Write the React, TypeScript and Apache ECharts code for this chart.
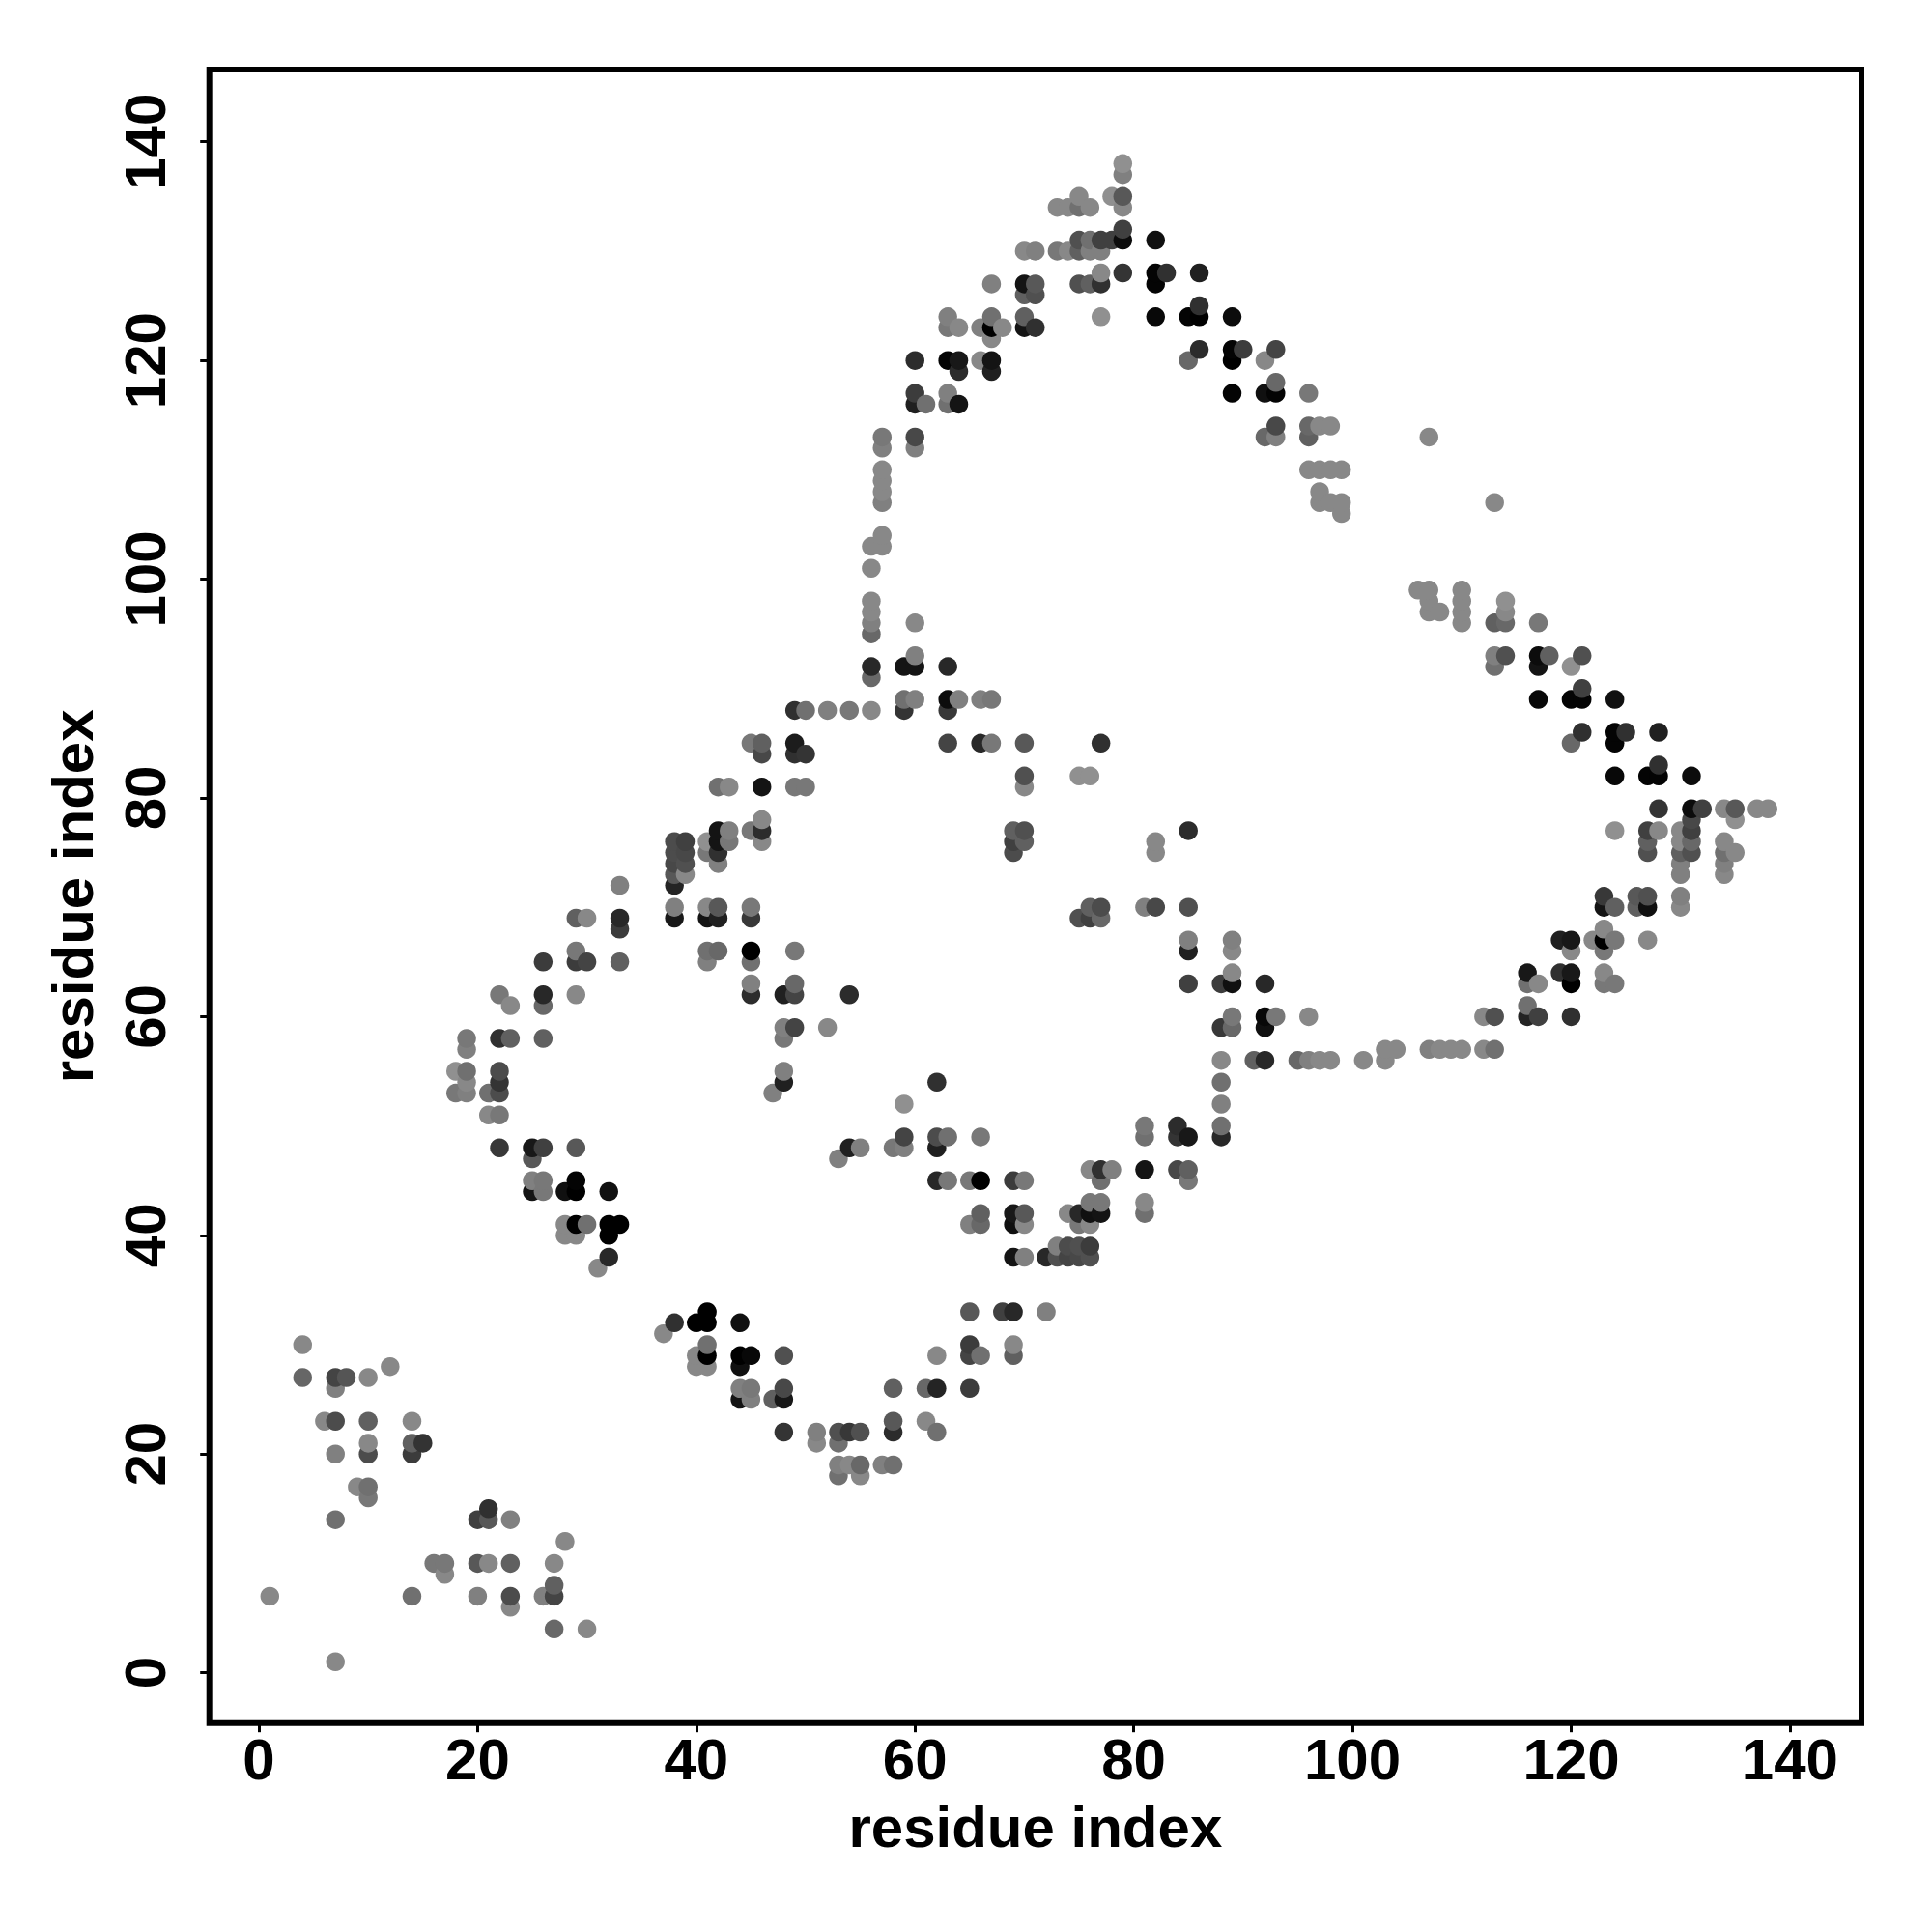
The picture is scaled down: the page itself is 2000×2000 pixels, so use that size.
import React, { useEffect, useRef } from "react";
import * as echarts from "echarts";

type Contact = [number, number, number];

const tickValues = [0, 20, 40, 60, 80, 100, 120, 140];
const axisTitle = "residue index";

const contacts0to19: Contact[] = [[1,7,0x88],[4,30,0x88],[4,27,0x66],[6,23,0x88],[7,27,0x44],[7,26,0x80],[7,23,0x4c],[7,20,0x80],[7,14,0x70],[7,1,0x88],[8,27,0x55],[9,17,0x88],[10,27,0x88],[10,23,0x60],[10,21,0x88],[10,20,0x4c],[10,17,0x70],[10,16,0x78],[12,28,0x88],[14,23,0x88],[14,21,0x60],[14,20,0x3c],[14,7,0x70],[15,21,0x33],[16,10,0x78],[17,10,0x78],[17,9,0x88],[18,55,0x90],[18,53,0x78],[19,58,0x78],[19,57,0x80],[19,55,0x70],[19,54,0x88],[19,53,0x80]];

const contacts20to39: Contact[] = [[20,14,0x40],[20,10,0x58],[20,7,0x80],[21,53,0x70],[21,51,0x88],[21,15,0x30],[21,14,0x58],[21,10,0x88],[22,62,0x78],[22,58,0x30],[22,55,0x4c],[22,54,0x34],[22,53,0x4c],[22,51,0x78],[22,48,0x38],[23,61,0x88],[23,58,0x60],[23,14,0x80],[23,10,0x60],[23,7,0x4c],[23,6,0x88],[25,48,0x18],[25,47,0x58],[25,45,0x80],[25,44,0x14],[26,65,0x3c],[26,62,0x28],[26,61,0x68],[26,58,0x60],[26,48,0x40],[26,45,0x78],[26,44,0x78],[26,7,0x80],[27,10,0x88],[27,8,0x60],[27,7,0x44],[27,4,0x68],[28,44,0x10],[28,41,0x88],[28,40,0x88],[28,12,0x88],[29,69,0x60],[29,66,0x78],[29,65,0x3c],[29,62,0x88],[29,48,0x58],[29,45,0x04],[29,44,0x00],[29,41,0x00],[29,40,0x88],[30,69,0x88],[30,65,0x44],[30,41,0x70],[30,4,0x88],[31,37,0x88],[32,44,0x10],[32,41,0x00],[32,40,0x00],[32,38,0x28],[33,72,0x80],[33,69,0x28],[33,68,0x3c],[33,65,0x60],[33,41,0x00],[37,31,0x88],[38,76,0x4c],[38,75,0x4c],[38,74,0x48],[38,73,0x58],[38,72,0x24],[38,70,0x80],[38,69,0x18],[38,32,0x30],[39,76,0x40],[39,75,0x48],[39,74,0x50],[39,73,0x88]];

const contacts40to59: Contact[] = [[40,32,0x00],[40,29,0x88],[40,28,0x88],[41,76,0x90],[41,75,0x78],[41,70,0x88],[41,69,0x14],[41,66,0x70],[41,65,0x80],[41,33,0x00],[41,32,0x00],[41,30,0x70],[41,29,0x00],[41,28,0x88],[42,81,0x70],[42,77,0x14],[42,76,0x14],[42,75,0x30],[42,74,0x80],[42,70,0x58],[42,69,0x20],[42,66,0x68],[43,81,0x88],[43,77,0x80],[43,76,0x78],[44,32,0x10],[44,29,0x00],[44,28,0x10],[44,26,0x80],[44,25,0x14],[45,85,0x78],[45,77,0x78],[45,70,0x78],[45,69,0x38],[45,66,0x00],[45,65,0x70],[45,63,0x80],[45,62,0x2c],[45,29,0x08],[45,26,0x78],[45,25,0x80],[46,85,0x60],[46,84,0x48],[46,81,0x14],[46,78,0x88],[46,77,0x2c],[46,76,0x88],[47,53,0x80],[47,25,0x60],[48,62,0x20],[48,59,0x80],[48,58,0x78],[48,55,0x80],[48,54,0x20],[48,29,0x50],[48,26,0x48],[48,25,0x18],[48,22,0x34],[49,88,0x30],[49,85,0x1c],[49,84,0x30],[49,81,0x78],[49,66,0x78],[49,63,0x68],[49,62,0x44],[49,59,0x44],[50,88,0x70],[50,84,0x34],[50,81,0x78],[51,22,0x80],[51,21,0x88],[52,88,0x80],[52,59,0x88],[53,47,0x80],[53,22,0x50],[53,21,0x70],[53,19,0x80],[53,18,0x70],[54,88,0x78],[54,62,0x2c],[54,48,0x20],[54,22,0x38],[54,19,0x88],[55,48,0x80],[55,22,0x50],[55,19,0x68],[55,18,0x88],[56,103,0x88],[56,101,0x88],[56,98,0x88],[56,97,0x88],[56,96,0x80],[56,95,0x68],[56,92,0x28],[56,91,0x68],[56,88,0x88],[57,113,0x78],[57,112,0x80],[57,110,0x88],[57,109,0x88],[57,108,0x88],[57,107,0x80],[57,104,0x88],[57,103,0x88],[57,19,0x80],[58,48,0x78],[58,26,0x60],[58,23,0x58],[58,22,0x2c],[58,19,0x70],[59,92,0x14],[59,89,0x70],[59,88,0x34],[59,52,0x90],[59,49,0x44],[59,48,0x80]];

const contacts60to79: Contact[] = [[60,120,0x2c],[60,117,0x3c],[60,116,0x20],[60,113,0x48],[60,112,0x80],[60,96,0x88],[60,93,0x80],[60,92,0x14],[60,89,0x80],[61,116,0x70],[61,26,0x68],[61,23,0x88],[62,54,0x30],[62,49,0x4c],[62,48,0x20],[62,45,0x28],[62,29,0x88],[62,26,0x24],[62,22,0x70],[63,124,0x80],[63,123,0x78],[63,120,0x04],[63,117,0x80],[63,116,0x70],[63,92,0x28],[63,89,0x0c],[63,88,0x38],[63,85,0x44],[63,49,0x70],[63,45,0x78],[64,123,0x88],[64,120,0x18],[64,119,0x2c],[64,116,0x14],[64,89,0x80],[65,45,0x78],[65,41,0x80],[65,33,0x58],[65,30,0x3c],[65,29,0x44],[65,26,0x3c],[66,123,0x80],[66,120,0x88],[66,89,0x80],[66,85,0x28],[66,49,0x78],[66,45,0x00],[66,42,0x60],[66,41,0x68],[66,29,0x70],[67,127,0x80],[67,124,0x70],[67,123,0x00],[67,122,0x88],[67,120,0x14],[67,119,0x20],[67,89,0x78],[67,85,0x78],[68,123,0x88],[68,33,0x40],[69,77,0x60],[69,76,0x40],[69,75,0x4c],[69,45,0x3c],[69,42,0x18],[69,41,0x10],[69,38,0x14],[69,33,0x28],[69,30,0x88],[69,29,0x60],[70,130,0x88],[70,127,0x14],[70,126,0x60],[70,124,0x60],[70,123,0x14],[70,85,0x58],[70,82,0x50],[70,81,0x88],[70,77,0x50],[70,76,0x60],[70,45,0x78],[70,42,0x58],[70,41,0x88],[70,38,0x80],[71,130,0x80],[71,127,0x58],[71,126,0x50],[71,123,0x30],[72,38,0x28],[72,33,0x80],[73,134,0x88],[73,130,0x78],[73,39,0x80],[73,38,0x50],[74,134,0x88],[74,130,0x88],[74,42,0x88],[74,39,0x4c],[74,38,0x44],[75,135,0x88],[75,134,0x70],[75,131,0x50],[75,130,0x60],[75,127,0x50],[75,82,0x90],[75,69,0x50],[75,42,0x28],[75,41,0x78],[75,39,0x50],[75,38,0x48],[76,134,0x88],[76,131,0x70],[76,130,0x80],[76,127,0x60],[76,82,0x90],[76,70,0x60],[76,69,0x40],[76,46,0x88],[76,43,0x78],[76,42,0x10],[76,41,0x88],[76,39,0x3c],[76,38,0x50],[77,131,0x40],[77,130,0x80],[77,128,0x88],[77,127,0x30],[77,124,0x90],[77,85,0x30],[77,70,0x4c],[77,69,0x68],[77,46,0x30],[77,45,0x70],[77,43,0x78],[77,42,0x14],[78,135,0x90],[78,131,0x40],[78,46,0x80],[79,138,0x90],[79,137,0x80],[79,135,0x58],[79,134,0x88],[79,132,0x40],[79,131,0x0c],[79,128,0x34]];

const contacts80to99: Contact[] = [[81,70,0x80],[81,50,0x78],[81,49,0x70],[81,46,0x14],[81,43,0x88],[81,42,0x70],[82,131,0x10],[82,128,0x04],[82,127,0x04],[82,124,0x08],[82,76,0x88],[82,75,0x88],[82,70,0x48],[83,128,0x30],[84,50,0x2c],[84,49,0x34],[84,46,0x48],[85,124,0x04],[85,120,0x68],[85,77,0x2c],[85,70,0x50],[85,67,0x80],[85,66,0x20],[85,63,0x40],[85,49,0x18],[85,46,0x60],[85,45,0x78],[86,128,0x20],[86,125,0x30],[86,124,0x00],[86,121,0x2c],[88,63,0x3c],[88,59,0x38],[88,56,0x88],[88,54,0x70],[88,52,0x80],[88,50,0x70],[88,49,0x28],[89,124,0x0c],[89,121,0x04],[89,120,0x00],[89,117,0x04],[89,67,0x80],[89,66,0x88],[89,64,0x88],[89,63,0x10],[89,60,0x78],[89,59,0x68],[90,121,0x3c],[91,56,0x60],[92,120,0x88],[92,117,0x10],[92,113,0x68],[92,63,0x28],[92,60,0x08],[92,59,0x10],[92,56,0x28],[93,121,0x44],[93,118,0x68],[93,117,0x04],[93,114,0x48],[93,113,0x80],[93,60,0x78],[95,56,0x68],[96,117,0x78],[96,114,0x68],[96,113,0x60],[96,110,0x88],[96,60,0x88],[96,56,0x80],[97,114,0x88],[97,110,0x88],[97,108,0x88],[97,107,0x88],[97,56,0x88],[98,114,0x88],[98,110,0x88],[98,107,0x88],[98,56,0x88],[99,110,0x88],[99,107,0x88],[99,106,0x88]];

const contacts100to119: Contact[] = [[101,56,0x88],[103,57,0x88],[103,56,0x88],[104,57,0x88],[106,99,0x88],[107,113,0x88],[107,99,0x88],[107,98,0x88],[107,97,0x88],[107,57,0x80],[108,97,0x88],[108,57,0x88],[109,57,0x88],[110,99,0x88],[110,98,0x88],[110,97,0x88],[110,96,0x88],[110,57,0x88],[112,60,0x88],[112,57,0x88],[113,107,0x88],[113,96,0x60],[113,93,0x80],[113,92,0x70],[113,60,0x50],[113,57,0x70],[114,98,0x90],[114,97,0x88],[114,96,0x68],[114,93,0x50],[116,64,0x18],[116,63,0x70],[116,61,0x70],[116,60,0x24],[117,96,0x78],[117,93,0x0c],[117,92,0x14],[117,89,0x08],[117,63,0x88],[117,60,0x40],[118,93,0x60],[119,67,0x20],[119,64,0x30]];

const contacts120to138: Contact[] = [[120,92,0x90],[120,89,0x04],[120,85,0x68],[120,67,0x18],[120,66,0x88],[120,64,0x18],[120,63,0x00],[120,60,0x30],[121,93,0x50],[121,90,0x40],[121,89,0x04],[121,86,0x30],[122,67,0x88],[123,71,0x38],[123,70,0x14],[123,68,0x88],[123,67,0x00],[123,66,0x78],[123,64,0x88],[123,63,0x78],[124,89,0x10],[124,86,0x04],[124,85,0x04],[124,82,0x08],[124,77,0x90],[124,70,0x60],[124,67,0x78],[124,63,0x78],[125,86,0x30],[126,71,0x58],[126,70,0x60],[127,82,0x04],[127,77,0x40],[127,76,0x60],[127,75,0x50],[127,71,0x50],[127,70,0x10],[127,67,0x88],[128,86,0x20],[128,83,0x30],[128,82,0x04],[128,79,0x34],[128,77,0x88],[130,77,0x88],[130,76,0x88],[130,75,0x60],[130,74,0x80],[130,73,0x80],[130,71,0x80],[130,70,0x88],[131,82,0x0c],[131,79,0x0c],[131,78,0x48],[131,77,0x40],[131,76,0x68],[131,75,0x50],[132,79,0x40],[134,79,0x88],[134,76,0x88],[134,75,0x70],[134,74,0x80],[134,73,0x88],[135,79,0x58],[135,78,0x90],[135,75,0x88],[137,79,0x88],[138,79,0x88]];

const FONT = "'Liberation Sans', Arial, sans-serif";

export default function App() {
  const ref = useRef<HTMLDivElement>(null);
  useEffect(() => {
    document.body.style.margin = "0";
    document.body.style.background = "#fff";
    const chart = echarts.init(ref.current!, undefined, { renderer: "svg" });
    const all = [
      ...contacts0to19,
      ...contacts20to39,
      ...contacts40to59,
      ...contacts60to79,
      ...contacts80to99,
      ...contacts100to119,
      ...contacts120to138,
    ].sort((a, b) => a[0] - b[0] || a[1] - b[1]);

    const common = {
      type: "value" as const,
      splitLine: { show: false },
      axisLine: { show: false, onZero: false },
      axisTick: {
        show: true,
        length: 9.5,
        customValues: tickValues,
        lineStyle: { color: "#000", width: 3 },
      },
      name: axisTitle,
      nameLocation: "middle" as const,
      nameTextStyle: { fontFamily: FONT, fontWeight: "bold" as const, fontSize: 60, color: "#000" },
    };

    chart.setOption({
      animation: false,
      backgroundColor: "#fff",
      grid: {
        show: true,
        left: 216.7,
        top: 72,
        width: 1710.3,
        height: 1711.7,
        borderColor: "#000",
        borderWidth: 6,
        backgroundColor: "transparent",
      },
      xAxis: {
        ...common,
        min: -4.53,
        max: 146.55,
        nameGap: 78,
        axisLabel: {
          customValues: tickValues,
          margin: 8,
          fontFamily: FONT,
          fontWeight: "bold",
          fontSize: 60,
          color: "#000",
        },
      },
      yAxis: {
        ...common,
        min: -4.6,
        max: 146.6,
        nameGap: 111,
        axisLabel: {
          customValues: tickValues,
          margin: 36,
          rotate: 90,
          align: "center",
          verticalAlign: "bottom",
          fontFamily: FONT,
          fontWeight: "bold",
          fontSize: 60,
          color: "#000",
        },
      },
      series: [
        {
          type: "scatter",
          symbol: "circle",
          symbolSize: 19.5,
          clip: false,
          data: all.map(([x, y, g]) => ({
            value: [x, y],
            itemStyle: { color: `rgb(${g},${g},${g})`, opacity: 1 },
          })),
        },
      ],
    });
    return () => chart.dispose();
  }, []);
  return <div ref={ref} style={{ width: 2000, height: 2000 }} />;
}
